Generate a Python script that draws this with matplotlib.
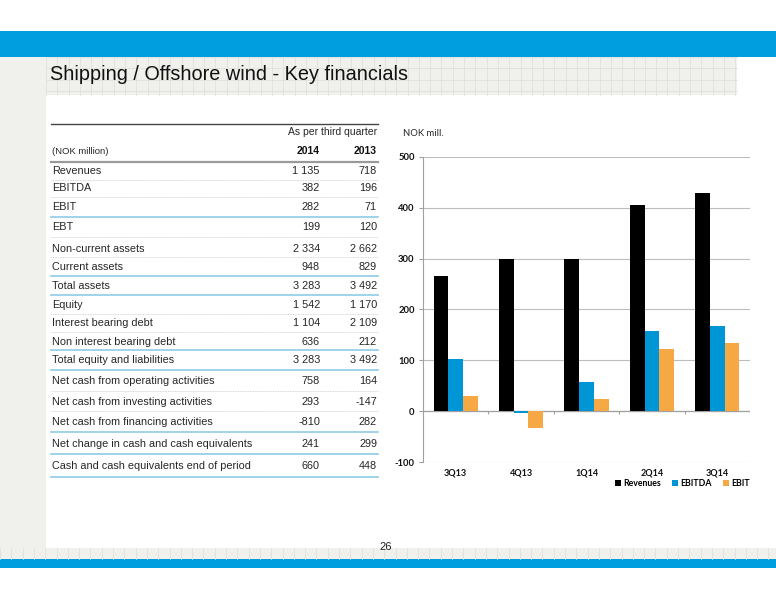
import numpy as np
import matplotlib
matplotlib.use("Agg")
import matplotlib.pyplot as plt
from matplotlib.patches import Rectangle

plt.rcParams["axes.unicode_minus"] = False

# chart data (NOK mill.)
quarters = ["3Q13", "4Q13", "1Q14", "2Q14", "3Q14"]
revenues = [266, 299, 300, 405, 430]
ebitda = [102, -3, 57, 158, 167]
ebit = [29, -34, 24, 123, 135]

# table data
row_labels = ["Revenues", "EBITDA", "EBIT", "EBT", "Non-current assets", "Current assets",
              "Total assets", "Equity", "Interest bearing debt", "Non interest bearing debt",
              "Total equity and liabilities", "Net cash from operating activities",
              "Net cash from investing activities", "Net cash from financing activities",
              "Net change in cash and cash equivalents", "Cash and cash equivalents end of period"]
vals_2014 = ["1 135", "382", "282", "199", "2 334", "948", "3 283", "1 542", "1 104", "636",
             "3 283", "758", "293", "-810", "241", "660"]
vals_2013 = ["718", "196", "71", "120", "2 662", "829", "3 492", "1 170", "2 109", "212",
             "3 492", "164", "-147", "282", "299", "448"]
# separator under each row: "d" dotted grey, "b" solid blue
row_seps = ["d", "d", "b", "d", "d", "b", "b", "d", "d", "b", "b", "d", "d", "b", "b", "b"]

# layout in pixels (top-down)
row_y = [171, 188, 207, 227, 249, 267, 286, 305, 323, 342, 360, 381, 402, 422, 444, 466]
sep_y = [180, 197, 217, 237, 257, 276, 295, 314, 332, 350, 370, 391, 411, 432, 454, 477]

BLUE = "#009ddf"
GRID_BG = "#f0f0ec"
GRID_LN = "#e0e0dc"
TXT = "#262626"
TFONT = ["Liberation Sans", "DejaVu Sans"]
CFONT = ["Lato", "DejaVu Sans"]

W, H = 776, 600
fig = plt.figure(figsize=(W / 100, H / 100), dpi=100)
bg = fig.add_axes([0, 0, 1, 1])
bg.set_xlim(0, W)
bg.set_ylim(H, 0)
bg.axis("off")

# slide frame: blue bands, grid areas
bg.add_patch(Rectangle((0, 31), W, 26, color=BLUE, lw=0))
bg.add_patch(Rectangle((0, 559), W, 9, color=BLUE, lw=0))
bg.add_patch(Rectangle((0, 57), 46, 491, color=GRID_BG, lw=0))
bg.add_patch(Rectangle((46, 57), 691, 38, color=GRID_BG, lw=0))
bg.add_patch(Rectangle((0, 548), W, 11, color=GRID_BG, lw=0))
for gx in np.arange(46, 738, 11.3):
    bg.plot([gx, gx], [57, 95], color=GRID_LN, lw=0.6)
for gy in np.arange(57, 96, 11.3):
    bg.plot([46, 737], [gy, gy], color=GRID_LN, lw=0.6)
for gx in np.arange(0, W, 11.3):
    bg.plot([gx, gx], [548, 559], color=GRID_LN, lw=0.6)

bg.text(50, 75, "Shipping / Offshore wind - Key financials", fontsize=14.3,
        family=TFONT, color="#111111", va="center", ha="left")
bg.text(386, 547, "26", fontsize=8, family=TFONT, color="#222222", ha="center", va="center")

# table
x0, x1 = 51, 378
c14, c13 = 320, 377
bg.plot([x0, x1], [124, 124], color="#444444", lw=1.0)
bg.text(c13, 132, "As per third quarter", fontsize=7.5, family=TFONT, color=TXT, ha="right", va="center")
bg.text(52, 151, "(NOK million)", fontsize=6.8, family=TFONT, color=TXT, ha="left", va="center")
bg.text(c14, 151, "2014", fontsize=7.5, family=TFONT, weight="bold", color="#111111", ha="right", va="center")
bg.text(c13, 151, "2013", fontsize=7.5, family=TFONT, weight="bold", color="#111111", ha="right", va="center")
bg.plot([x0, x1], [162, 162], color="#9a9a9a", lw=1.6)

for lab, v14, v13, sep, ry, sy in zip(row_labels, vals_2014, vals_2013, row_seps, row_y, sep_y):
    bg.text(52, ry, lab, fontsize=7.8, family=TFONT, color=TXT, ha="left", va="center")
    bg.text(c14, ry, v14, fontsize=7.8, family=TFONT, color=TXT, ha="right", va="center")
    bg.text(c13, ry, v13, fontsize=7.8, family=TFONT, color=TXT, ha="right", va="center")
    if sep == "b":
        bg.plot([x0, x1], [sy, sy], color="#8fcbe8", lw=1.2)
    else:
        bg.plot([x0, x1], [sy, sy], color="#c8c8c8", lw=0.6, ls=(0, (1, 1)))

# chart
bg.text(403, 134, "NOK mill.", fontsize=6.8, family=CFONT, color=TXT, va="center")
ax = fig.add_axes([423 / W, (H - 462) / H, (750 - 423) / W, (462 - 157) / H])
x = np.arange(len(quarters))
bw = 0.225
ax.bar(x - bw, revenues, bw, color="#000000", label="Revenues", zorder=3)
ax.bar(x, ebitda, bw, color="#0096d6", label="EBITDA", zorder=3)
ax.bar(x + bw, ebit, bw, color="#f5a843", label="EBIT", zorder=3)

ax.set_xlim(-0.5, len(quarters) - 0.5)
ax.set_ylim(-100, 500)
ax.set_yticks(range(-100, 501, 100))
ax.grid(axis="y", color="#bdbdbd", lw=0.8, zorder=0)
ax.axhline(0, color="#a0a0a0", lw=0.9, zorder=2)
ax.vlines(np.arange(len(quarters)) + 0.5, -5, 0, color="#a0a0a0", lw=0.8, zorder=2)
ax.set_xticks(x)
ax.set_xticklabels(quarters)
for s in ["top", "right", "bottom"]:
    ax.spines[s].set_visible(False)
ax.spines["left"].set_color("#a0a0a0")
ax.tick_params(axis="x", length=0, pad=5, labelsize=6.5, labelcolor="#111111")
ax.tick_params(axis="y", length=3, color="#a0a0a0", pad=3, labelsize=6.8, labelcolor="#111111")
for t in ax.get_xticklabels() + ax.get_yticklabels():
    t.set_family(CFONT)
    t.set_weight("bold")
ax.legend(loc="upper right", bbox_to_anchor=(1.0, -0.055), ncol=3, frameon=False,
          prop={"family": CFONT, "weight": "bold", "size": 6.3},
          handlelength=0.7, handleheight=0.7, handletextpad=0.3, columnspacing=1.2,
          borderpad=0, borderaxespad=0)

fig.savefig("out.png", dpi=100)
